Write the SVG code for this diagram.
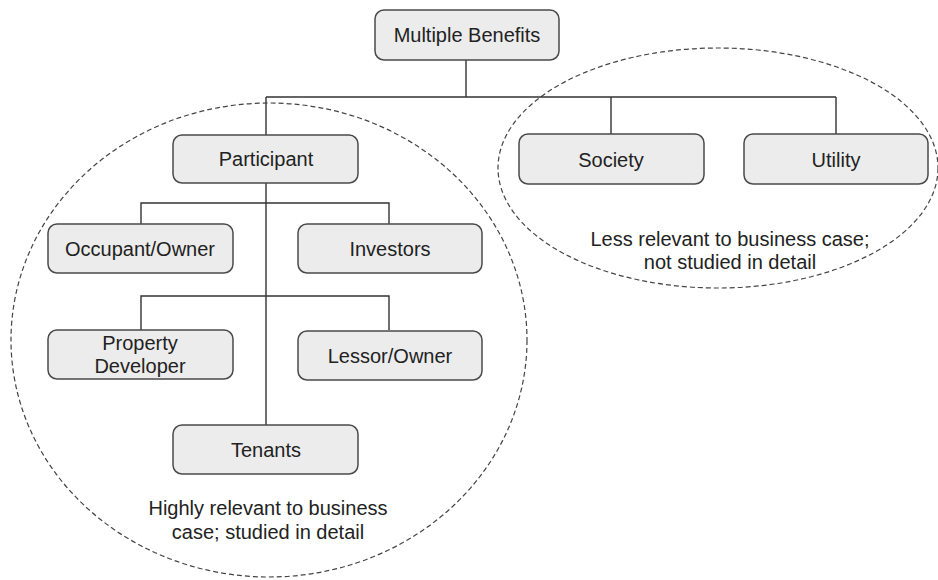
<svg xmlns="http://www.w3.org/2000/svg" width="938" height="580" viewBox="0 0 938 580">
<style>
.box{fill:#ececec;stroke:#4a4a4a;stroke-width:1.5}
.lbl{font-family:"Liberation Sans",Arial,sans-serif;font-size:20px;fill:#222;text-anchor:middle}
.ann{font-family:"Liberation Sans",Arial,sans-serif;font-size:20px;fill:#222;text-anchor:middle}
.con{stroke:#333;stroke-width:1.4;fill:none}
.grp{fill:none;stroke:#444;stroke-width:1.2;stroke-dasharray:5 3}
</style>
<rect width="938" height="580" fill="#fff"/>
<g id="groups">
<ellipse class="grp" cx="269" cy="340" rx="258" ry="237"/>
<ellipse class="grp" cx="718" cy="168" rx="220" ry="120"/>
</g>
<g id="connectors">
<path class="con" d="M466 60V97M266 97H836M611 97V134M836 97V134M266 97V425"/>
<path class="con" d="M141 224V203H389V224"/>
<path class="con" d="M141 330V296H389V330"/>
</g>
<g id="multiple-benefits"><rect class="box" x="375" y="10" width="184" height="50" rx="9"/><text class="lbl" x="467" y="42">Multiple Benefits</text></g>
<g id="participant"><rect class="box" x="173" y="135" width="185" height="48" rx="9"/><text class="lbl" x="266" y="166">Participant</text></g>
<g id="society"><rect class="box" x="519" y="134" width="185" height="50" rx="9"/><text class="lbl" x="611" y="167">Society</text></g>
<g id="utility"><rect class="box" x="744" y="134" width="184" height="50" rx="9"/><text class="lbl" x="836" y="167">Utility</text></g>
<g id="occupant-owner"><rect class="box" x="48" y="224" width="185" height="49" rx="9"/><text class="lbl" x="140" y="256">Occupant/Owner</text></g>
<g id="investors"><rect class="box" x="298" y="224" width="184" height="49" rx="9"/><text class="lbl" x="390" y="256">Investors</text></g>
<g id="property-developer"><rect class="box" x="48" y="330" width="185" height="49" rx="9"/><text class="lbl" x="140" y="350">Property</text><text class="lbl" x="140" y="373">Developer</text></g>
<g id="lessor-owner"><rect class="box" x="298" y="331" width="184" height="49" rx="9"/><text class="lbl" x="390" y="363">Lessor/Owner</text></g>
<g id="tenants"><rect class="box" x="173" y="425" width="185" height="49" rx="9"/><text class="lbl" x="266" y="457">Tenants</text></g>
<g id="annotations">
<text class="ann" x="730" y="246">Less relevant to business case;</text>
<text class="ann" x="730" y="269">not studied in detail</text>
<text class="ann" x="268" y="515">Highly relevant to business</text>
<text class="ann" x="268" y="539">case; studied in detail</text>
</g>
</svg>
